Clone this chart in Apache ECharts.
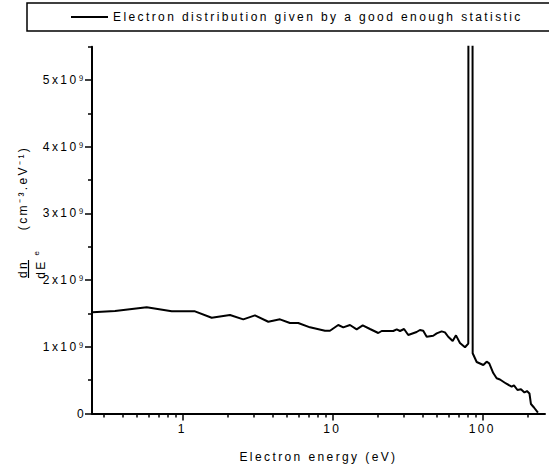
<!DOCTYPE html>
<html><head><meta charset="utf-8">
<script src="https://cdn.jsdelivr.net/npm/echarts@6/dist/echarts.min.js"></script>
<style>
html,body{margin:0;padding:0;background:#fff;}
#main{width:549px;height:468px;}
#main text{letter-spacing:2.4px;}
</style></head><body><div id="main"></div>
<script>
// Electron energy (eV)
const energy = [0.252, 0.356, 0.579, 0.850, 1.215, 1.570, 2.08, 2.55, 3.05, 3.745, 4.48, 5.22, 5.93, 7.10, 8.94, 9.65,
  10.96, 11.84, 13.12, 14.54, 15.95, 17.84, 20.26, 21.35, 25.5, 26.9, 28.3, 30.1, 32.1, 36.5, 38.4, 40.4, 42.6, 47.1,
  49.7, 53.6, 56.4, 59.3, 63.5, 66.8, 71.0, 76.7, 80.7, 81.5, 85.4, 86.3, 91.8, 101.6, 107.0, 111.3, 118.4, 124.7,
  131.2, 143.9, 157.0, 162.7, 171.7, 181.1, 191.1, 198.6, 206.4, 211.2, 221.2, 235.1];
// dn_e/dE in units of 1e9 cm^-3 eV^-1
const density = [1.517, 1.537, 1.592, 1.532, 1.532, 1.436, 1.477, 1.412, 1.472, 1.376, 1.412, 1.357, 1.357, 1.292, 1.241, 1.241,
  1.327, 1.292, 1.327, 1.262, 1.322, 1.267, 1.207, 1.237, 1.237, 1.262, 1.237, 1.267, 1.177, 1.222, 1.252, 1.241, 1.151, 1.166,
  1.202, 1.232, 1.217, 1.151, 1.087, 1.172, 1.057, 0.993, 1.049, 30, 30, 0.903, 0.772, 0.727, 0.777, 0.753, 0.607, 0.528,
  0.510, 0.450, 0.402, 0.423, 0.352, 0.363, 0.315, 0.337, 0.300, 0.142, 0.090, 0.012];
const seriesName = 'Electron distribution given by a good enough statistic';
const xTitle = 'Electron energy (eV)';
const xMajorTicks = [1, 10, 100];
const xMinorTicks = [0.3, 0.4, 0.5, 0.6, 0.7, 0.8, 0.9, 2, 3, 4, 5, 6, 7, 8, 9, 20, 30, 40, 50, 60, 70, 80, 90, 200];
const yMajorTicks = [0, 1, 2, 3, 4, 5];
const yMinorTicks = [0.5, 1.5, 2.5, 3.5, 4.5, 5.5];

const FF = 'Liberation Sans';
const chart = echarts.init(document.getElementById('main'), null, {renderer: 'svg'});
const axisLineStyle = {color: '#000', width: 2};
const rotText = (x, y, text, size) => ({
  type: 'text', x: x, y: y, rotation: Math.PI / 2,
  style: {text: text, fontSize: size, fontFamily: FF, fill: '#000',
          textAlign: 'center', textVerticalAlign: 'middle', align: 'center', verticalAlign: 'middle'}
});
chart.setOption({
  animation: false,
  backgroundColor: '#fff',
  grid: {left: 92, right: 4, top: 46.7, bottom: 54.5},
  legend: {
    data: [seriesName], left: 27, top: 3, padding: [8, 200, 8, 43],
    itemWidth: 37, itemHeight: 14, borderColor: '#000', borderWidth: 1.5,
    selectedMode: false,
    itemStyle: {opacity: 0},
    lineStyle: {color: '#000', width: 2, opacity: 1},
    textStyle: {fontSize: 12, fontFamily: FF, color: '#000'}
  },
  xAxis: [{
    type: 'log', logBase: 10, min: 0.25, max: 262,
    axisLine: {show: true, lineStyle: axisLineStyle},
    axisTick: {show: true, customValues: xMajorTicks, length: 7, lineStyle: {color: '#000', width: 1.5}},
    axisLabel: {customValues: xMajorTicks, margin: 9, fontSize: 12, fontFamily: FF, color: '#000', formatter: v => String(v)},
    splitLine: {show: false}, minorTick: {show: false},
    name: xTitle, nameLocation: 'middle', nameGap: 37,
    nameTextStyle: {fontSize: 12, fontFamily: FF, color: '#000'}
  }, {
    type: 'log', logBase: 10, min: 0.25, max: 262, position: 'bottom',
    axisLine: {show: false},
    axisTick: {show: true, customValues: xMinorTicks, length: 4, lineStyle: {color: '#000', width: 1.5}},
    axisLabel: {show: false}, splitLine: {show: false}
  }],
  yAxis: [{
    type: 'value', min: 0, max: 5.5, interval: 0.5,
    axisLine: {show: true, lineStyle: axisLineStyle},
    axisTick: {show: true, customValues: yMajorTicks, length: 7, lineStyle: {color: '#000', width: 1.5}},
    axisLabel: {
      customValues: yMajorTicks, margin: 6, color: '#000', fontFamily: FF, fontSize: 12,
      formatter: v => v === 0 ? '0' : v + 'x10\u2079'
    },
    splitLine: {show: false}
  }, {
    type: 'value', min: 0, max: 5.5, interval: 0.5, position: 'left',
    axisLine: {show: false},
    axisTick: {show: true, customValues: yMinorTicks, length: 4, lineStyle: {color: '#000', width: 1.5}},
    axisLabel: {show: false}, splitLine: {show: false}
  }],
  graphic: [
    rotText(22.5, 269, 'dn', 12),
    {type: 'line', shape: {x1: 28.5, y1: 278, x2: 28.5, y2: 260}, style: {stroke: '#000', lineWidth: 1.2}},
    rotText(36.5, 252, 'e', 8),
    rotText(41, 269, 'dE', 12),
    rotText(23, 188, '(cm\u207B\u00B3.eV\u207B\u00B9)', 12)
  ],
  series: [{
    name: seriesName, type: 'line', xAxisIndex: 0, yAxisIndex: 0,
    data: energy.map((e, i) => [e, density[i]]),
    symbol: 'none', clip: true,
    lineStyle: {color: '#000', width: 2},
    itemStyle: {color: '#000'}
  }]
});
</script></body></html>
